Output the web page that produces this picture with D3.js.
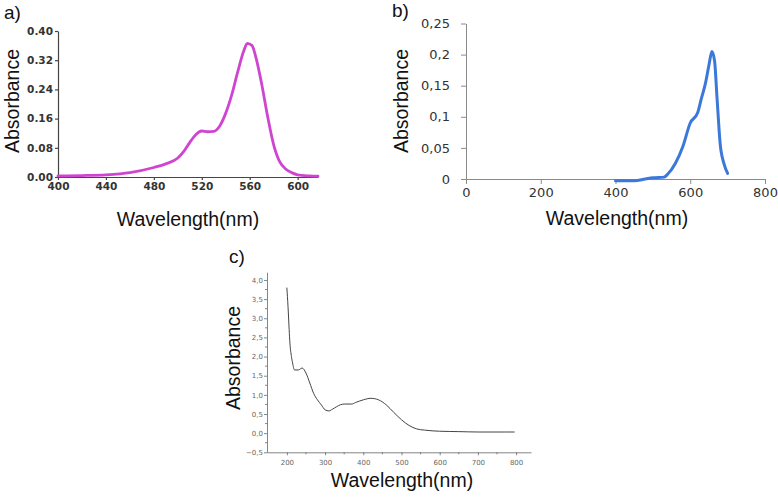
<!DOCTYPE html>
<html>
<head>
<meta charset="utf-8">
<script src="https://cdn.jsdelivr.net/npm/d3@7"></script>
<style>
  html, body { margin: 0; padding: 0; background: #fff; }
  svg { display: block; }
  .title { font-family: "Liberation Sans", Arial, sans-serif; fill: #111; }
</style>
</head>
<body>
<div id="chart"></div>
<script>
// panel a
const aWave = [400, 420, 440, 460, 480, 490, 500, 505, 510, 515, 520, 525, 530, 535, 540, 545, 550, 555, 558, 562, 565, 570, 575, 580, 585, 590, 595, 600, 610, 617];
const aAbs  = [0.003, 0.004, 0.006, 0.012, 0.026, 0.036, 0.052, 0.07, 0.095, 0.116, 0.126, 0.124, 0.125, 0.14, 0.175, 0.225, 0.288, 0.345, 0.366, 0.36, 0.33, 0.255, 0.165, 0.088, 0.042, 0.022, 0.012, 0.006, 0.003, 0.002];
const aXTicks = [400, 440, 480, 520, 560, 600];
const aYTicks = [0, 0.08, 0.16, 0.24, 0.32, 0.40];

// panel b
const bWave = [400, 450, 480, 500, 530, 540, 560, 580, 600, 620, 630, 640, 650, 658, 665, 672, 680, 690, 700];
const bAbs  = [-0.003, -0.003, 0.0, 0.002, 0.003, 0.008, 0.025, 0.052, 0.09, 0.107, 0.13, 0.152, 0.183, 0.205, 0.19, 0.127, 0.057, 0.025, 0.009];
const bXTicks = [0, 200, 400, 600, 800];
const bYTicks = [0, 0.05, 0.1, 0.15, 0.2, 0.25];

// panel c
const cWave = [200, 203, 206, 208, 212, 215, 220, 230, 240, 250, 260, 270, 280, 290, 300, 310, 320, 340, 350, 370, 380, 400, 420, 440, 460, 480, 500, 520, 540, 560, 600, 650, 700, 750, 795];
const cAbs  = [3.79, 3.31, 2.7, 2.35, 2.0, 1.83, 1.65, 1.65, 1.7, 1.57, 1.31, 1.04, 0.87, 0.74, 0.61, 0.58, 0.63, 0.74, 0.76, 0.76, 0.8, 0.87, 0.91, 0.87, 0.74, 0.54, 0.35, 0.2, 0.11, 0.08, 0.05, 0.04, 0.03, 0.03, 0.03];
const cXTicks = [200, 300, 400, 500, 600, 700, 800];
const cYTicks = [-0.5, 0, 0.5, 1, 1.5, 2, 2.5, 3, 3.5, 4];

const width = 778;
const height = 497;

const svg = d3.select("#chart")
  .append("svg")
  .attr("width", width)
  .attr("height", height);

function drawPanel(p) {
  const x = d3.scaleLinear(p.xDomain, p.xRange);
  const y = d3.scaleLinear(p.yDomain, p.yRange);
  const g = svg.append("g");

  const xAxis = d3.axisBottom(x)
    .tickValues(p.xTicks)
    .tickSize(p.tickSize)
    .tickPadding(p.xPad)
    .tickSizeOuter(0);
  const yAxis = d3.axisLeft(y)
    .tickValues(p.yTicks)
    .tickFormat(p.yFormat)
    .tickSize(p.tickSize)
    .tickPadding(p.yPad)
    .tickSizeOuter(0);

  const gx = g.append("g")
    .attr("transform", `translate(0,${p.xAxisY})`)
    .call(xAxis);
  const gy = g.append("g")
    .attr("transform", `translate(${p.xRange[0]},0)`)
    .call(yAxis);

  [gx, gy].forEach((ax) => {
    ax.select(".domain").attr("stroke", p.axisColor).attr("stroke-width", p.axisWidth);
    ax.selectAll(".tick line").attr("stroke", p.axisColor).attr("stroke-width", p.axisWidth);
    ax.selectAll("text")
      .attr("font-family", p.tickFont)
      .attr("font-size", p.tickFontSize)
      .attr("font-weight", p.tickWeight || "normal")
      .attr("fill", p.tickColor);
  });

  if (p.minorX) {
    g.append("g")
      .selectAll("line")
      .data(p.minorX)
      .join("line")
      .attr("x1", (d) => x(d))
      .attr("x2", (d) => x(d))
      .attr("y1", p.xAxisY)
      .attr("y2", p.xAxisY + 2)
      .attr("stroke", p.axisColor)
      .attr("stroke-width", p.axisWidth);
  }
  if (p.minorY) {
    g.append("g")
      .selectAll("line")
      .data(p.minorY)
      .join("line")
      .attr("x1", p.xRange[0] - 2)
      .attr("x2", p.xRange[0])
      .attr("y1", (d) => y(d))
      .attr("y2", (d) => y(d))
      .attr("stroke", p.axisColor)
      .attr("stroke-width", p.axisWidth);
  }

  const line = d3.line()
    .x((d) => x(d[0]))
    .y((d) => y(d[1]))
    .curve(d3.curveMonotoneX);

  g.append("path")
    .datum(d3.zip(p.wave, p.abs))
    .attr("d", line)
    .attr("fill", "none")
    .attr("stroke", p.color)
    .attr("stroke-width", p.lineWidth)
    .attr("stroke-linejoin", "round")
    .attr("stroke-linecap", "round");

  // panel letter
  g.append("text")
    .attr("class", "title")
    .attr("x", p.letterPos[0])
    .attr("y", p.letterPos[1])
    .attr("font-size", 19)
    .text(p.letter);

  g.append("text")
    .attr("class", "title")
    .attr("transform", `translate(${p.yTitlePos[0]},${p.yTitlePos[1]}) rotate(-90)`)
    .attr("text-anchor", "middle")
    .attr("font-size", 19.5)
    .text("Absorbance");

  g.append("text")
    .attr("class", "title")
    .attr("x", p.xTitlePos[0])
    .attr("y", p.xTitlePos[1])
    .attr("text-anchor", "middle")
    .attr("font-size", 19.5)
    .text("Wavelength(nm)");
}

drawPanel({
  wave: aWave, abs: aAbs,
  xDomain: [400, 617], xRange: [58, 318],
  yDomain: [0, 0.4], yRange: [177, 31],
  xAxisY: 177,
  xTicks: aXTicks, yTicks: aYTicks,
  yFormat: d3.format(".2f"),
  tickSize: 3, xPad: 3, yPad: 2,
  tickFont: "DejaVu Sans", tickFontSize: 10.5, tickWeight: "bold", tickColor: "#333",
  axisColor: "#444", axisWidth: 1.2,
  color: "#cf45d2", lineWidth: 2.8,
  letter: "a)", letterPos: [4, 19],
  yTitlePos: [19, 101],
  xTitlePos: [188, 226]
});

drawPanel({
  wave: bWave, abs: bAbs,
  xDomain: [0, 800], xRange: [466, 765],
  yDomain: [0, 0.25], yRange: [179, 23.5],
  xAxisY: 179,
  xTicks: bXTicks, yTicks: bYTicks,
  yFormat: (d) => String(d).replace(".", ","),
  tickSize: 5, xPad: 4, yPad: 11,
  tickFont: "DejaVu Sans", tickFontSize: 13, tickColor: "#333",
  axisColor: "#8a8a8a", axisWidth: 1,
  color: "#3b78da", lineWidth: 3,
  letter: "b)", letterPos: [392, 17],
  yTitlePos: [408, 101],
  xTitlePos: [617, 225]
});

drawPanel({
  wave: cWave, abs: cAbs,
  xDomain: [148, 839], xRange: [267, 531],
  yDomain: [-0.5, 4.2], yRange: [452.3, 272.3],
  xAxisY: 452.3,
  xTicks: cXTicks, yTicks: cYTicks,
  yFormat: (d) => d3.format(".1f")(d).replace(".", ","),
  tickSize: 3, xPad: 5, yPad: 1,
  tickFont: "DejaVu Sans", tickFontSize: 7, tickColor: "#666",
  axisColor: "#666", axisWidth: 0.8,
  minorX: [250, 350, 450, 550, 650, 750],
  minorY: [-0.25, 0.25, 0.75, 1.25, 1.75, 2.25, 2.75, 3.25, 3.75],
  color: "#444", lineWidth: 1,
  letter: "c)", letterPos: [229, 263],
  yTitlePos: [240, 358],
  xTitlePos: [402, 487]
});
</script>
</body>
</html>
